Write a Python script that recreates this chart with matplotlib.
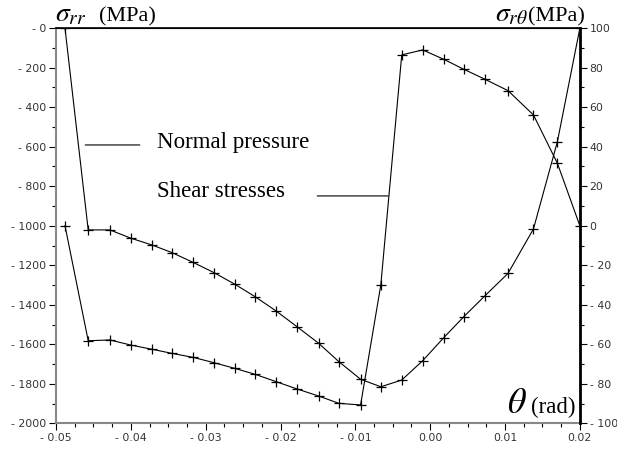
import matplotlib
matplotlib.use("Agg")
import matplotlib.pyplot as plt
from matplotlib.ticker import FuncFormatter, MultipleLocator

plt.rcParams['mathtext.fontset'] = 'stix'

# angle (rad)
theta = [-0.0488, -0.0457, -0.0428, -0.0400, -0.0372, -0.0345, -0.0317, -0.0289,
         -0.0261, -0.0234, -0.0206, -0.0178, -0.0149, -0.0122, -0.0093, -0.0066,
         -0.0038, -0.0010, 0.0018, 0.0045, 0.0073, 0.0104, 0.0138, 0.0170, 0.0200]
# normal pressure sigma_rr (MPa), left axis
normal = [0, -1021, -1021, -1063, -1097, -1136, -1185, -1237,
          -1296, -1359, -1431, -1511, -1595, -1688, -1777, -1815,
          -1781, -1683, -1567, -1460, -1355, -1241, -1016, -574, 0]
# shear stress sigma_rtheta (MPa), right axis
shear = [0, -58.2, -57.8, -60.4, -62.5, -64.6, -66.6, -69.3,
         -72.2, -75.2, -78.9, -82.6, -86.2, -89.9, -90.7, -30.0,
         86.5, 89.0, 84.3, 79.2, 74.2, 68.4, 56.1, 31.6, 0]

fig = plt.figure(figsize=(6.17, 4.5), dpi=100)
ax = fig.add_axes([0.0908, 0.0593, 0.849, 0.878])
ax2 = ax.twinx()

ax.plot(theta, normal, color='black', lw=0.8, marker='+', ms=6.5, mew=0.9)
ax2.plot(theta, shear, color='black', lw=0.8, marker='+', ms=6.5, mew=0.9)

ax.set_xlim(-0.05, 0.02)
ax.set_ylim(-2000, 0)
ax2.set_ylim(-100, 100)

def fmt_x(v, pos):
    v = round(v, 4)
    if abs(v) < 1e-9:
        return "0.00"
    return "- %.2f" % abs(v) if v < 0 else "%.2f" % v

ax.xaxis.set_major_locator(MultipleLocator(0.01))
ax.xaxis.set_minor_locator(MultipleLocator(0.0025))
ax.xaxis.set_major_formatter(FuncFormatter(fmt_x))
ax.yaxis.set_major_locator(MultipleLocator(200))
ax.yaxis.set_minor_locator(MultipleLocator(100))
ax.yaxis.set_major_formatter(FuncFormatter(lambda v, p: "- %d" % abs(v)))
ax2.yaxis.set_major_locator(MultipleLocator(20))
ax2.yaxis.set_minor_locator(MultipleLocator(10))
ax2.yaxis.set_major_formatter(FuncFormatter(lambda v, p: "- %d" % abs(v) if v < -1e-9 else "%d" % abs(v)))

for a in (ax, ax2):
    a.tick_params(which='major', length=5, width=0.8, labelsize=7.8, labelcolor='#333333', pad=2)
    a.tick_params(which='minor', length=3, width=0.8)

ax.spines['left'].set_color('#888888')
ax.spines['left'].set_linewidth(1.5)
ax.spines['bottom'].set_color('#888888')
ax.spines['bottom'].set_linewidth(1.5)
ax2.spines['left'].set_visible(False)
ax2.spines['bottom'].set_visible(False)
ax2.spines['right'].set_color('black')
ax2.spines['right'].set_linewidth(2)
ax.spines['right'].set_visible(False)
ax2.spines['top'].set_linewidth(1.2)

serif = 'Liberation Serif'
base_top = 1 - 21 / 450
fig.text(55 / 617, base_top, r'$\sigma_{rr}$', fontsize=20, ha='left', va='baseline')
fig.text(99 / 617, base_top, '(MPa)', fontsize=16, family=serif, ha='left', va='baseline')
fig.text(585 / 617, base_top, '(MPa)', fontsize=16, family=serif, ha='right', va='baseline')
fig.text(528 / 617, base_top, r'$\sigma_{r\theta}$', fontsize=20, ha='right', va='baseline')
fig.text(575 / 617, 1 - 413 / 450, '(rad)', fontsize=16.5, family=serif, ha='right', va='baseline')
fig.text(527 / 617, 1 - 413 / 450, r'$\theta$', fontsize=26, ha='right', va='baseline')

ax.text(-0.0365, -606, 'Normal pressure', fontsize=16.5, family=serif, ha='left', va='baseline')
ax.text(-0.0365, -854, 'Shear stresses', fontsize=16.5, family=serif, ha='left', va='baseline')
ax.annotate('', xy=(-0.0461, -591), xytext=(-0.0388, -591),
            arrowprops=dict(arrowstyle='-', color='black', lw=0.8, shrinkA=0, shrinkB=0))
ax.annotate('', xy=(-0.0056, -849), xytext=(-0.0151, -849),
            arrowprops=dict(arrowstyle='-', color='black', lw=0.8, shrinkA=0, shrinkB=0))

fig.savefig('out.png', dpi=100)
